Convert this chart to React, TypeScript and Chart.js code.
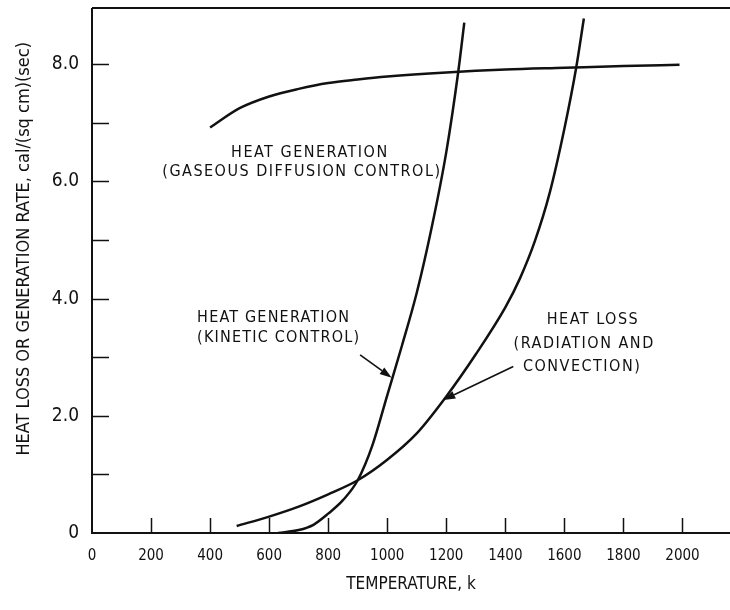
import React, { useEffect, useRef } from 'react';
import { Chart, registerables } from 'chart.js';
Chart.register(...registerables);

const FONT = '"DejaVu Sans Condensed", "Liberation Sans Narrow", "DejaVu Sans", sans-serif';

// Heat generation, gaseous diffusion control
const gasT = [400, 500, 600, 700, 800, 900, 1000, 1200, 1400, 1600, 1800, 1990];
const gasQ = [6.92, 7.25, 7.45, 7.58, 7.68, 7.74, 7.79, 7.86, 7.91, 7.94, 7.97, 7.99];
// Heat generation, kinetic control
const kinT = [630, 700, 750, 800, 850, 900, 950, 1000, 1050, 1100, 1150, 1200, 1240, 1261];
const kinQ = [0, 0.05, 0.14, 0.33, 0.56, 0.9, 1.5, 2.35, 3.2, 4.1, 5.2, 6.5, 7.85, 8.71];
// Heat loss, radiation and convection
const lossT = [490, 600, 700, 800, 900, 1000, 1100, 1200, 1300, 1400, 1450, 1500, 1550, 1600, 1640, 1666];
const lossQ = [0.12, 0.28, 0.45, 0.66, 0.9, 1.25, 1.7, 2.33, 3.05, 3.85, 4.35, 4.98, 5.8, 6.9, 7.94, 8.78];

const xTickValues = [0, 200, 400, 600, 800, 1000, 1200, 1400, 1600, 1800, 2000];
const yTickLabels = ['0', '', '2.0', '', '4.0', '', '6.0', '', '8.0'];

const xTitle = 'TEMPERATURE, k';
const yTitle = 'HEAT LOSS OR GENERATION RATE, cal/(sq cm)(sec)';
// y title is centred on this value of the y axis
const yTitleAt = 4.85;

// annotation text, anchored at (T, Q)
const noteTexts = ['HEAT GENERATION', '(GASEOUS DIFFUSION CONTROL)', 'HEAT GENERATION', '(KINETIC CONTROL)', 'HEAT LOSS', '(RADIATION AND', 'CONVECTION)'];
const noteT = [738, 711, 356, 356, 1697, 1667, 1660];
const noteQ = [6.48, 6.16, 3.67, 3.33, 3.63, 3.23, 2.83];
const noteAlign = ['center', 'center', 'left', 'left', 'center', 'center', 'center'];
const noteSpacing = [1.5, 1.5, 1.2, 1.2, 1.5, 1.5, 1.5];
// arrows: from (T,Q) to (T,Q)
const arrowFromT = [908, 1427];
const arrowFromQ = [3.04, 2.84];
const arrowToT = [1015, 1190];
const arrowToQ = [2.65, 2.27];

const toPts = (xs: number[], ys: number[]) => xs.map((x, i) => ({ x, y: ys[i] }));

export default function App() {
  const ref = useRef<HTMLCanvasElement>(null);
  useEffect(() => {
    const canvas = ref.current!;
    const framePlugin = {
      id: 'frame',
      afterDraw(chart: any) {
        const { ctx, chartArea: a, scales } = chart;
        const x = scales.x, y = scales.y;
        ctx.save();
        ctx.strokeStyle = '#111';
        ctx.fillStyle = '#111';
        ctx.lineWidth = 2;
        ctx.beginPath();
        ctx.moveTo(a.left, a.top);
        ctx.lineTo(a.right, a.top);
        ctx.moveTo(a.left, a.top);
        ctx.lineTo(a.left, a.bottom);
        ctx.lineTo(a.right, a.bottom);
        ctx.stroke();
        ctx.lineWidth = 1.5;
        ctx.beginPath();
        x.ticks.forEach((t: any) => {
          if (t.value <= 0) return;
          const px = Math.round(x.getPixelForValue(t.value)) + 0.5;
          ctx.moveTo(px, a.bottom);
          ctx.lineTo(px, a.bottom - 15);
        });
        y.ticks.forEach((t: any) => {
          if (t.value <= 0) return;
          const py = Math.round(y.getPixelForValue(t.value)) + 0.5;
          ctx.moveTo(a.left, py);
          ctx.lineTo(a.left + 17, py);
        });
        ctx.stroke();
        // y axis title
        ctx.save();
        ctx.font = '18px ' + FONT;
        ctx.textAlign = 'center';
        ctx.textBaseline = 'middle';
        ctx.translate(y.left + 24, y.getPixelForValue(yTitleAt));
        ctx.rotate(-Math.PI / 2);
        ctx.fillText(yTitle, 0, 0);
        ctx.restore();
        // annotations
        ctx.font = '16px ' + FONT;
        ctx.textBaseline = 'middle';
        noteTexts.forEach((s, i) => {
          (ctx as any).letterSpacing = noteSpacing[i] + 'px';
          ctx.textAlign = noteAlign[i] as CanvasTextAlign;
          ctx.fillText(s, x.getPixelForValue(noteT[i]), y.getPixelForValue(noteQ[i]));
        });
        (ctx as any).letterSpacing = '0px';
        ctx.lineWidth = 1.6;
        arrowFromT.forEach((_, i) => {
          const x1 = x.getPixelForValue(arrowFromT[i]);
          const y1 = y.getPixelForValue(arrowFromQ[i]);
          const x2 = x.getPixelForValue(arrowToT[i]);
          const y2 = y.getPixelForValue(arrowToQ[i]);
          const ang = Math.atan2(y2 - y1, x2 - x1);
          const L = 12, W = 4;
          ctx.beginPath();
          ctx.moveTo(x1, y1);
          ctx.lineTo(x2 - Math.cos(ang) * L, y2 - Math.sin(ang) * L);
          ctx.stroke();
          ctx.beginPath();
          ctx.moveTo(x2, y2);
          ctx.lineTo(x2 - Math.cos(ang) * L - Math.sin(ang) * W, y2 - Math.sin(ang) * L + Math.cos(ang) * W);
          ctx.lineTo(x2 - Math.cos(ang) * L + Math.sin(ang) * W, y2 - Math.sin(ang) * L - Math.cos(ang) * W);
          ctx.closePath();
          ctx.fill();
        });
        ctx.restore();
      },
    };
    const ds = (data: any[]) => ({
      data,
      borderColor: '#111',
      borderWidth: 2.5,
      pointRadius: 0,
      showLine: true,
      fill: false,
      cubicInterpolationMode: 'monotone' as const,
    });
    const chart = new Chart(canvas, {
      type: 'scatter',
      data: {
        datasets: [ds(toPts(gasT, gasQ)), ds(toPts(kinT, kinQ)), ds(toPts(lossT, lossQ))],
      },
      options: {
        animation: false,
        responsive: false,
        devicePixelRatio: 1,
        layout: { padding: { top: 8, right: 0, left: 0, bottom: 0 } },
        plugins: { legend: { display: false }, tooltip: { enabled: false } },
        scales: {
          x: {
            type: 'linear',
            min: 0,
            max: 2161,
            grid: { display: false, drawTicks: false },
            border: { display: false },
            afterFit: (s: any) => { s.height = 77; s.paddingLeft = 0; s.paddingRight = 0; },
            afterBuildTicks: (s: any) => { s.ticks = xTickValues.map((v) => ({ value: v })); },
            ticks: {
              autoSkip: false,
              maxRotation: 0,
              padding: 14,
              color: '#111',
              font: { family: FONT, size: 15 },
              callback: (v: any) => String(v),
            },
            title: {
              display: true,
              text: xTitle,
              color: '#111',
              font: { family: FONT, size: 17 },
              padding: { top: 0, bottom: 15 },
            },
          },
          y: {
            type: 'linear',
            min: 0,
            max: 8.96,
            grid: { display: false, drawTicks: false },
            border: { display: false },
            afterFit: (s: any) => { s.width = 92; s.paddingTop = 0; s.paddingBottom = 0; },
            afterBuildTicks: (s: any) => { s.ticks = yTickLabels.map((_, i) => ({ value: i })); },
            ticks: {
              autoSkip: false,
              padding: 13,
              color: '#111',
              font: { family: FONT, size: 19 },
              callback: (v: any) => yTickLabels[Math.round(Number(v))] ?? '',
            },
            title: { display: false },
          },
        },
      },
      plugins: [framePlugin],
    });
    return () => chart.destroy();
  }, []);
  return (
    <div style={{ position: 'absolute', left: 0, top: 0, width: 730, height: 610, background: '#fff' }}>
      <canvas ref={ref} width={730} height={610} />
    </div>
  );
}
